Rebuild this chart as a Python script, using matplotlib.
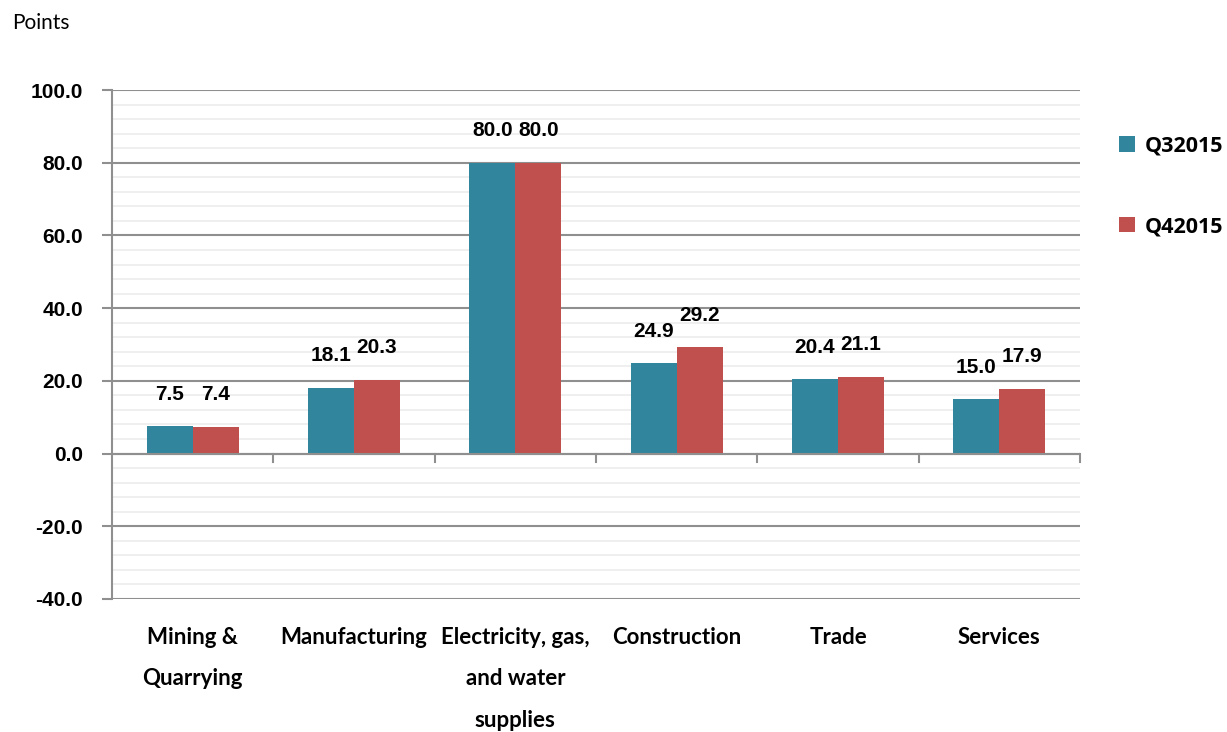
import numpy as np
import matplotlib.pyplot as plt
from matplotlib.ticker import MultipleLocator

sectors = ["Mining &\nQuarrying", "Manufacturing", "Electricity, gas,\nand water\nsupplies",
           "Construction", "Trade", "Services"]
q3_2015 = [7.5, 18.1, 80.0, 24.9, 20.4, 15.0]
q4_2015 = [7.4, 20.3, 80.0, 29.2, 21.1, 17.9]
series_names = ["Q32015", "Q42015"]

teal = "#31859C"
red = "#C0504D"
grid_dark = "#8f8f8f"
grid_light = "#ececec"

fig = plt.figure(figsize=(12.27, 7.32), dpi=100)
ax = fig.add_axes([0.0913, 0.1817, 0.7889, 0.6953])

x = np.arange(len(sectors))
w = 0.285
b1 = ax.bar(x - w / 2, q3_2015, w, color=teal, zorder=3, label=series_names[0])
b2 = ax.bar(x + w / 2, q4_2015, w, color=red, zorder=3, label=series_names[1])

ax.set_xlim(-0.5, len(sectors) - 0.5)
ax.set_ylim(-40, 100)

# grid: dark every 20, light every 4
ax.yaxis.set_major_locator(MultipleLocator(20))
ax.yaxis.set_minor_locator(MultipleLocator(4))
ax.grid(axis="y", which="minor", color=grid_light, lw=1.2, zorder=0)
ax.grid(axis="y", which="major", color=grid_dark, lw=1.5, zorder=1)
ax.tick_params(axis="y", which="major", length=7, width=1.5, color=grid_dark, pad=14)
ax.tick_params(axis="y", which="minor", length=0)
ax.set_yticks(np.arange(-40, 101, 20))
ax.set_yticklabels([f"{v:.1f}" for v in np.arange(-40, 101, 20)],
                   fontfamily="Liberation Sans", fontweight="bold", fontsize=15)

for s in ["top", "right", "bottom"]:
    ax.spines[s].set_visible(False)
ax.spines["left"].set_color(grid_dark)
ax.spines["left"].set_linewidth(1.5)

# category axis sits on the zero line, ticks between categories
ax.axhline(0, color=grid_dark, lw=1.5, zorder=4)
ax.set_xticks(np.arange(0.5, len(sectors), 1))
ax.set_xticklabels([])
ax.tick_params(axis="x", length=0)
for xb in np.arange(0.5, len(sectors), 1):
    ax.plot([xb, xb], [0, -2.2], color=grid_dark, lw=1.5, zorder=4, clip_on=False)

for i, name in enumerate(sectors):
    ax.text(i, -0.055, name, transform=ax.get_xaxis_transform(), ha="center", va="top",
            fontfamily="Lato", fontweight="bold", fontsize=16, linespacing=2.2)

# value labels above each bar
for bars in (b1, b2):
    for r in bars:
        h = r.get_height()
        ax.annotate(f"{h:.1f}", (r.get_x() + r.get_width() / 2, h), xytext=(0, 23),
                    textcoords="offset points", ha="center", va="center",
                    fontfamily="Liberation Sans", fontweight="bold", fontsize=15)

fig.text(0.0098, 0.969, "Points", fontfamily="Lato", fontsize=15, va="center", ha="left")

ax.legend(handles=[b1, b2], loc="upper left", bbox_to_anchor=(1.02, 0.948), frameon=False,
          handlelength=0.75, handleheight=0.75, labelspacing=2.75, handletextpad=0.45,
          prop={"family": "Open Sans", "weight": "bold", "size": 15.5})

fig.savefig("out.png", dpi=100)
